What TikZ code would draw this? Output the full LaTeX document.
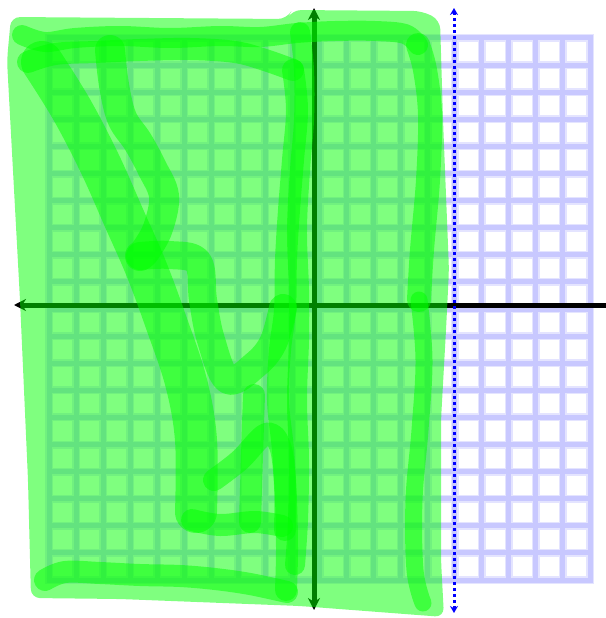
\documentclass[tikz,border=0pt]{standalone}
\usetikzlibrary{arrows.meta}
\definecolor{gridlav}{HTML}{C8C8FF}
\definecolor{gridhaze}{HTML}{E4E4FF}
\definecolor{marker}{HTML}{00FF00}
\definecolor{dotblue}{HTML}{0000FF}

\begin{document}
\begin{tikzpicture}[
    x=1pt, y=-1pt,
    line cap=round, line join=round,
    axistip/.tip={Stealth[length=12pt, width=12pt]},
    dottip/.tip={Stealth[length=7pt, width=8pt]},
    gridhalo/.style={draw=gridhaze, line width=8pt, line cap=butt},
    gridline/.style={draw=gridlav, line width=5pt, line cap=butt},
    axis/.style={draw=black, line width=5pt, line cap=butt},
    region/.style={fill=marker, fill opacity=0.5},
    pen/.style={draw=marker, draw opacity=0.5, line width=22pt},
    asymptote/.style={draw=dotblue, line width=3pt, line cap=butt,
        dash pattern=on 3pt off 3pt, dottip-dottip},
]
    \useasboundingbox (0,0) rectangle (605,618);

    % =====================================================================
    % GRID
    % =====================================================================
    \foreach \i in {0,...,20} {
        \draw[gridhalo] ({49+27.05*\i},34) -- ({49+27.05*\i},584);
        \draw[gridhalo] (45,{38+27.1*\i}) -- (594,{38+27.1*\i});
    }
    \foreach \i in {0,...,20} {
        \draw[gridline] ({49+27.05*\i},35.5) -- ({49+27.05*\i},582.5);
        \draw[gridline] (46.5,{38+27.1*\i}) -- (592.5,{38+27.1*\i});
    }

    % =====================================================================
    % AXES
    % =====================================================================
    \coordinate (xleft) at (14,305);
    \coordinate (xright) at (607,305);
    \coordinate (ytop) at (314,8);
    \coordinate (ybottom) at (314,610);
    \draw[axis, axistip-] (xleft) -- (xright);
    \draw[axis, axistip-axistip] (ytop) -- (ybottom);

    % =====================================================================
    % SHADED REGION (freehand marker)
    % =====================================================================
    \fill[region, rounded corners=9pt] (7,60) -- (11,17) -- (287,19) -- (292,10)
        -- (422,11) -- (440,20) -- (443,120) -- (449,270) -- (446,330)
        -- (441,420) -- (441,560) -- (444,617) -- (300,606) -- (120,599)
        -- (31,598) -- (28,480) -- (20,300) -- cycle;

    % top strokes
    \draw[pen, line width=20pt] plot[smooth, tension=0.6] coordinates {(22,35)
        (45,42) (75,38) (120,36) (170,38) (220,36) (260,37) (297,33)
        (335,31) (375,31) (405,34) (418,45)};
    \draw[pen] plot[smooth, tension=0.6] coordinates {(28,62) (55,54) (95,52)
        (140,50) (190,49) (235,52) (265,60) (293,70)};
    % right edge
    \draw[pen, line width=24pt] plot[smooth, tension=0.6] coordinates {(418,45)
        (425,70) (430,115) (428,180) (422,250) (419,300)};
    \draw[pen, line width=17pt] plot[smooth, tension=0.6] coordinates {(419,300)
        (424,360) (420,430) (414,500) (415,570) (423,603)};
    % strokes beside the vertical axis
    \draw[pen] plot[smooth, tension=0.6] coordinates {(293,70) (297,110)
        (293,160) (289,210) (286,260) (285,310) (280,350) (278,400)
        (283,450) (286,500) (287,550) (286,590)};
    \draw[pen, line width=20pt] plot[smooth, tension=0.6] coordinates {(300,32)
        (304,70) (304,120) (300,170) (297,230) (299,290) (299,340)
        (297,400) (299,460) (298,520) (295,565)};
    % bottom edge
    \draw[pen] plot[smooth, tension=0.6] coordinates {(45,580) (65,572)
        (100,573) (140,575) (180,576) (215,579) (250,584) (287,592)};

    % inner strokes
    \draw[pen, line width=42pt] plot[smooth, tension=0.6] coordinates {(42,62)
        (72,110) (100,164) (124,218) (146,268) (166,322) (186,382)
        (196,440) (196,512)};
    \draw[pen, line width=30pt] plot[smooth, tension=0.6] coordinates {(110,50)
        (114,85) (122,118) (138,142) (152,168) (164,196) (158,228)
        (146,250) (140,256)};
    \draw[pen, line width=28pt] plot[smooth, tension=0.6] coordinates {(140,256)
        (170,255) (198,262) (203,300) (211,340) (228,380) (255,365)
        (273,343) (283,308)};
    \draw[pen] plot[smooth, tension=0.6] coordinates {(254,395) (252,455)
        (250,522)};
    \draw[pen] plot[smooth, tension=0.6] coordinates {(214,480) (240,460)
        (266,434) (280,446) (285,485) (285,530)};
    \draw[pen] plot[smooth, tension=0.6] coordinates {(192,520) (220,525)
        (255,522) (282,526)};

    % =====================================================================
    % DOTTED BOUNDARY
    % =====================================================================
    \coordinate (btop) at (454,8);
    \coordinate (bbottom) at (454,613);
    \draw[asymptote] (btop) -- (bbottom);

\end{tikzpicture}
\end{document}
